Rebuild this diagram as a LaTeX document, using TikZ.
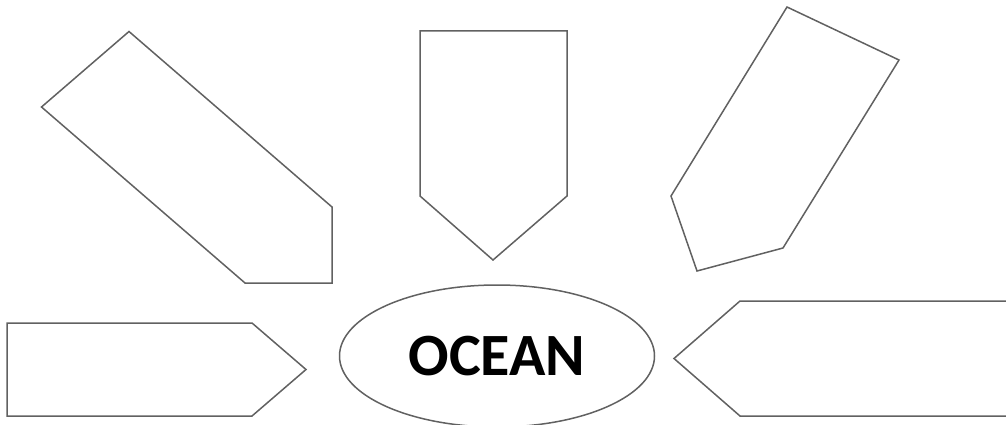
\documentclass[tikz,border=0pt]{standalone}
\usepackage{fontspec}
\setmainfont{Carlito}
\usetikzlibrary{shapes.geometric}
\begin{document}
\begin{tikzpicture}[x=1pt,y=-1pt,
  arrowshape/.style={draw=black!62, line width=1.5pt, line join=miter, fill=white},
  ovalshape/.style={ellipse, draw=black!62, line width=1.5pt, minimum width=315pt, minimum height=142pt, inner sep=0pt, font=\bfseries\fontsize{60}{60}\selectfont}]
\useasboundingbox (0,0) rectangle (1006,425);
\draw[arrowshape] (41.5,107) -- (129,31.5) -- (332,207) -- (332,283) -- (245,283) -- cycle;
\draw[arrowshape] (420,31) -- (567,31) -- (567,196) -- (493,260) -- (420,196) -- cycle;
\draw[arrowshape] (787,7) -- (899,60) -- (783,248) -- (697,271) -- (671,196) -- cycle;
\draw[arrowshape] (7,323) -- (252,323) -- (306,369.5) -- (252,416) -- (7,416) -- cycle;
\draw[arrowshape] (740,301) -- (1010,301) -- (1010,416) -- (740,416) -- (674,358.5) -- cycle;
\node[ovalshape] (ocean) at (497,356) {OCEAN};
\end{tikzpicture}
\end{document}
